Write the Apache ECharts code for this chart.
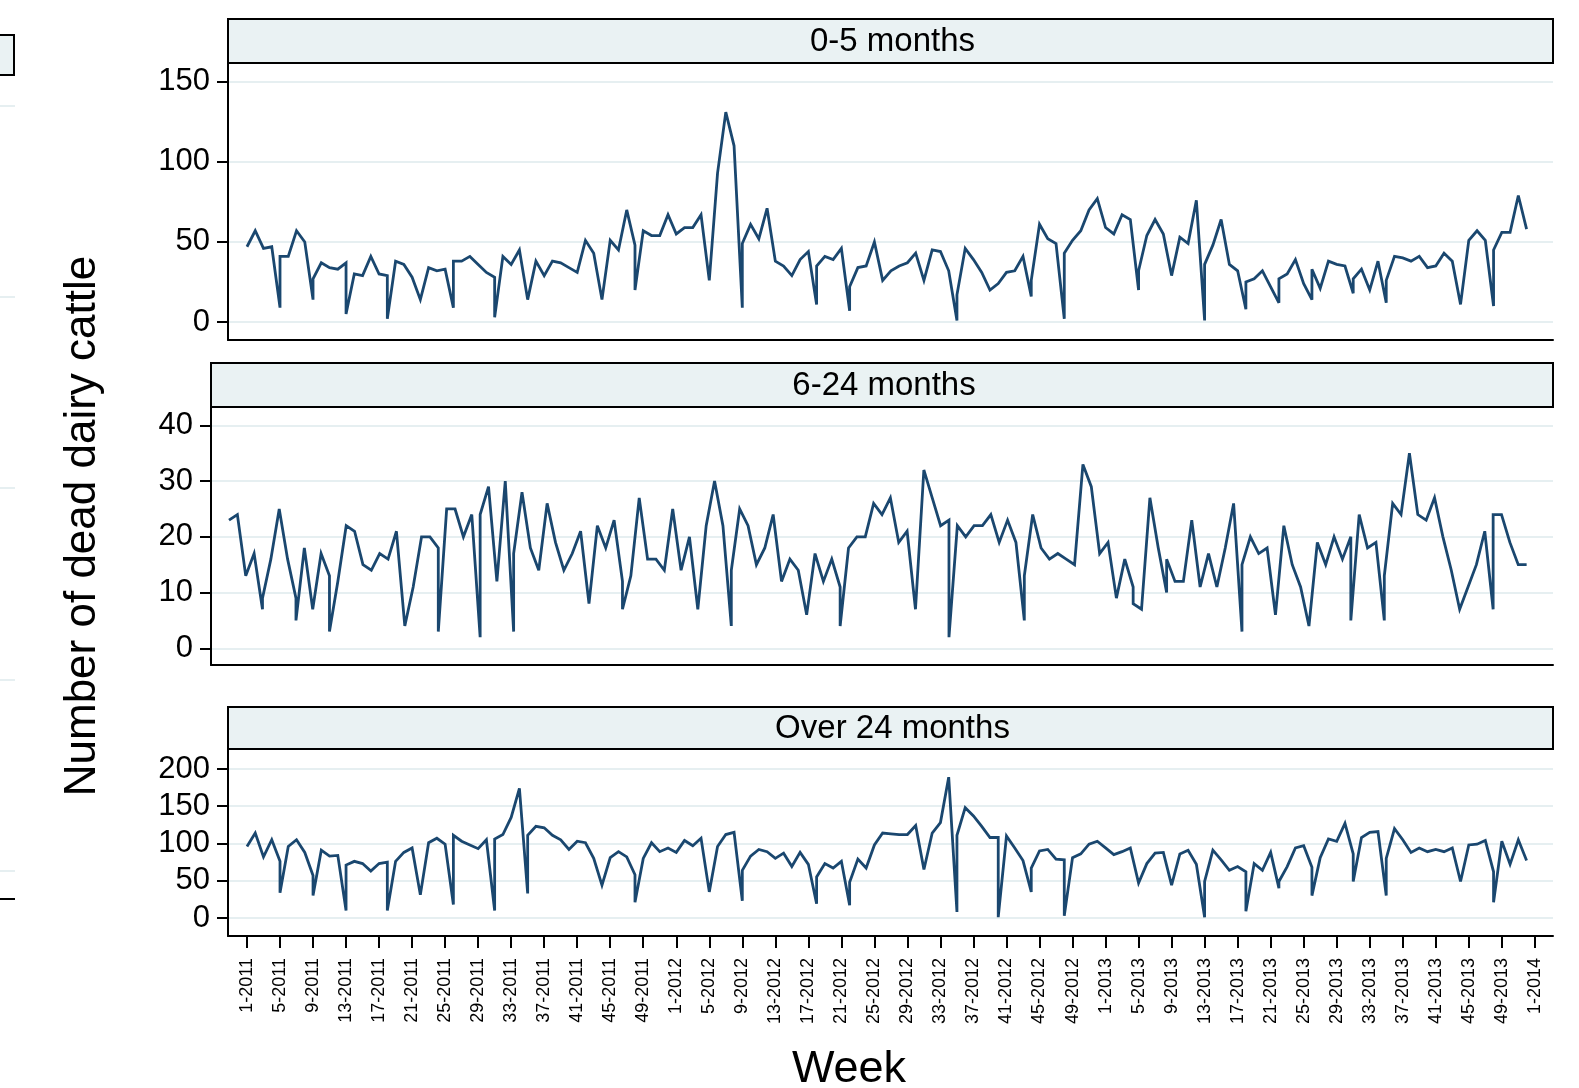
<!DOCTYPE html>
<html>
<head>
<meta charset="utf-8">
<title>Number of dead dairy cattle by week</title>
<script src="https://cdn.jsdelivr.net/npm/echarts@6.0.0/dist/echarts.min.js"></script>
<style>
  html, body { margin: 0; padding: 0; background: #fff; }
  #chart { width: 1579px; height: 1088px; }
</style>
</head>
<body>
<div id="chart"></div>
<script>
// weekly counts, week 0 = 1-2011; a week cut by a month boundary has two records [a, b]
const panelTitles = ['0-5 months', '6-24 months', 'Over 24 months'];

const calves = [
  47, 57, 46, 47, [9, 41], 41, 57, 50, [14, 27], 37, 34, 33, [37, 5], 30, 29, 41, 30, [29, 2], 38, 36,
  28, 14, 34, 32, 33, [9, 38], 38, 41, 36, 31, [28, 3], 41, 36, 45, 14, 38, 29, 38, 37, 34,
  31, 51, 43, 14, 51, 45, 70, [48, 20], 57, 54, 54, 67, 55, 59, 59, 67, 26, 93, 131, 110,
  [9, 49], 61, 52, 71, 38, 35, 29, 39, 44, [11, 35], 41, 39, 46, [7, 22], 34, 35, 50, 26, 32, 35,
  37, 43, 26, 45, 44, 32, [1, 17], 46, 39, 31, 20, 24, 31, 32, 41, [16, 26], 61, 52, 49, [2, 43],
  51, 57, 70, 77, 59, 55, 67, 64, [20, 32], 54, 64, 55, 29, 53, 49, 76, [1, 36], 48, 64, 36,
  32, [8, 25], 27, 32, 22, [12, 27], 30, 39, 24, [14, 33], 21, 38, 36, 35, [18, 27], 33, 20, 38, [12, 26], 41,
  40, 38, 41, 34, 35, 43, 38, 11, 51, 57, 51, [10, 45], 56, 56, 79, 58
];

const youngstock = [
  23, 24, 13, 17, [7, 9], 16, 25, 16, [9, 5], 18, 7, 17, [13, 3], 12, 22, 21, 15, 14, 17, 16,
  21, 4, 11, 20, 20, [18, 3], 25, 25, 20, 24, [2, 24], 29, 12, 30, [3, 17], 28, 18, 14, 26, 19,
  14, 17, 21, 8, 22, 18, 23, [12, 7], 13, 27, 16, 16, 14, 25, 14, 20, 7, 22, 30, 22,
  [4, 14], 25, 22, 15, 18, 24, 12, 16, 14, 6, 17, 12, 16, [11, 4], 18, 20, 20, 26, 24, 27,
  19, 21, 7, 32, 27, 22, [23, 2], 22, 20, 22, 22, 24, 19, 23, 19, [5, 13], 24, 18, 16, 17,
  16, 15, 33, 29, 17, 19, 9, 16, [11, 8], 7, 27, 18, [10, 16], 12, 12, 23, 11, 17, 11, 18,
  26, [3, 15], 20, 17, 18, 6, 22, 15, 11, 4, 19, 15, 20, 16, [20, 5], 24, 18, 19, [5, 13], 26,
  24, 35, 24, 23, 27, 20, 14, 7, 11, 15, 21, [7, 24], 24, 19, 15, 15
];

const adults = [
  96, 114, 82, 105, [76, 34], 96, 105, 88, [57, 30], 91, 83, 84, [10, 71], 76, 73, 63, 73, [75, 10], 76, 88,
  94, 31, 101, 107, 99, [18, 111], 103, 98, 93, 105, [10, 106], 112, 135, 174, [33, 111], 123, 121, 111, 105, 92,
  103, 101, 80, 44, 81, 89, 82, [58, 21], 80, 101, 89, 94, 88, 104, 97, 107, 35, 96, 112, 115,
  [23, 64], 83, 92, 89, 80, 87, 69, 88, 72, [19, 55], 73, 67, 76, [17, 48], 79, 67, 98, 114, 113, 112,
  112, 124, 65, 114, 128, 189, [8, 111], 148, 137, 123, 108, [108, 1], 110, 94, 77, [35, 67], 90, 92, 79, [78, 3],
  81, 86, 99, 103, 94, 85, 89, 94, 47, 73, 87, 88, 44, 86, 91, 72, [1, 49], 91, 78, 64,
  69, [62, 9], 73, 64, 88, [40, 49], 69, 94, 97, [68, 30], 81, 106, 103, 127, [86, 49], 108, 115, 116, [30, 80], 120,
  105, 88, 94, 89, 92, 89, 94, 49, 98, 99, 104, [62, 21], 103, 72, 105, 77
];

const yTicks = [
  [0, 50, 100, 150],
  [0, 10, 20, 30, 40],
  [0, 50, 100, 150, 200]
];

const tickLabels = [
  '1-2011', '5-2011', '9-2011', '13-2011', '17-2011', '21-2011', '25-2011', '29-2011', '33-2011', '37-2011',
  '41-2011', '45-2011', '49-2011',
  '1-2012', '5-2012', '9-2012', '13-2012', '17-2012', '21-2012', '25-2012', '29-2012', '33-2012', '37-2012',
  '41-2012', '45-2012', '49-2012',
  '1-2013', '5-2013', '9-2013', '13-2013', '17-2013', '21-2013', '25-2013', '29-2013', '33-2013', '37-2013',
  '41-2013', '45-2013', '49-2013',
  '1-2014'
];

// 52 weeks per year, as in the source's weekly dates
const tickWeeks = tickLabels.map(s => {
  const [w, y] = s.split('-').map(Number);
  return (y - 2011) * 52 + (w - 1);
});
const labelOf = {};
tickWeeks.forEach((w, k) => { labelOf[w] = tickLabels[k]; });

const toPoints = vals => vals.flatMap((v, i) => (Array.isArray(v) ? v : [v]).map(y => [i, y]));

const FONT = '"Liberation Sans", Arial, Helvetica, sans-serif';
const NAVY = '#1a476f';
const GRIDC = '#e6eff1';
const STRIP = '#eaf2f3';

// plot boxes [left, top, width, height] and value ranges
const boxes = [
  [228, 63, 1325, 277],
  [211, 407, 1342, 258],
  [228, 749, 1325, 187]
];
const yRange = [[-11.2, 161.7], [-3.0, 43.3], [-24.2, 226.8]];
const xRange = [[-2.3, 158.2], [-2.15, 158.15], [-2.3, 158.2]];

const series = [calves, youngstock, adults];

const chart = echarts.init(document.getElementById('chart'));

const grid = boxes.map(b => ({ left: b[0], top: b[1], width: b[2], height: b[3], containLabel: false }));

const xAxis = boxes.map((b, k) => {
  const last = k === 2;
  return {
    type: 'value',
    gridIndex: k,
    min: xRange[k][0],
    max: xRange[k][1],
    axisLine: { show: true, onZero: false, lineStyle: { color: '#000', width: 2 } },
    axisTick: last ? { show: true, customValues: tickWeeks, length: 12, lineStyle: { color: '#000', width: 2 } } : { show: false },
    axisLabel: last ? {
      show: true,
      customValues: tickWeeks,
      rotate: 90,
      margin: 22,
      fontSize: 18,
      color: '#000',
      fontFamily: FONT,
      formatter: v => labelOf[Math.round(v)] || ''
    } : { show: false },
    splitLine: { show: false }
  };
});

const yAxis = boxes.map((b, k) => ({
  type: 'value',
  gridIndex: k,
  min: yRange[k][0],
  max: yRange[k][1],
  axisLine: { show: true, onZero: false, lineStyle: { color: '#000', width: 2 } },
  axisTick: { show: true, customValues: yTicks[k], length: 11, lineStyle: { color: '#000', width: 2 } },
  axisLabel: { customValues: yTicks[k], margin: 18, fontSize: 31, color: '#000', fontFamily: FONT, padding: [3, 0, 0, 0] },
  splitLine: { show: true, lineStyle: { color: GRIDC, width: 2 } }
}));

const lines = series.map((vals, k) => ({
  type: 'line',
  xAxisIndex: k,
  yAxisIndex: k,
  data: toPoints(vals),
  showSymbol: false,
  symbol: 'none',
  lineStyle: { color: NAVY, width: 2.8, join: 'miter', miterLimit: 4 },
  z: 3
}));

const stripHeights = [44, 44, 42];
const graphics = [];
boxes.forEach((b, k) => {
  const h = stripHeights[k];
  graphics.push({
    type: 'rect',
    shape: { x: b[0], y: b[1] - h, width: b[2], height: h },
    style: { fill: STRIP, stroke: '#000', lineWidth: 2 },
    z: 10
  });
  graphics.push({
    type: 'text',
    x: b[0] + b[2] / 2 + 2,
    y: b[1] - h / 2 + 1,
    style: { text: panelTitles[k], fontSize: 33, fontFamily: FONT, fill: '#000', align: 'center', verticalAlign: 'middle' },
    z: 11
  });
});

// axis titles
graphics.push({
  type: 'text',
  x: 83, y: 526,
  rotation: Math.PI / 2,
  style: { text: 'Number of dead dairy cattle', fontSize: 44, fontFamily: FONT, fill: '#000', align: 'center', verticalAlign: 'middle' }
});
graphics.push({
  type: 'text',
  x: 849, y: 1070,
  style: { text: 'Week', fontSize: 45, fontFamily: FONT, fill: '#000', align: 'center', verticalAlign: 'middle' }
});

// clipped neighbouring panel on the left edge
graphics.push({
  type: 'rect',
  shape: { x: -2, y: 35, width: 16, height: 40 },
  style: { fill: STRIP, stroke: '#000', lineWidth: 2 }
});
[106, 297, 488, 680, 871].forEach(y => {
  graphics.push({ type: 'line', shape: { x1: 0, y1: y, x2: 15, y2: y }, style: { stroke: GRIDC, lineWidth: 2 } });
});
graphics.push({ type: 'line', shape: { x1: 0, y1: 899, x2: 15, y2: 899 }, style: { stroke: '#000', lineWidth: 2 } });

chart.setOption({
  animation: false,
  backgroundColor: '#fff',
  textStyle: { fontFamily: FONT },
  grid,
  xAxis,
  yAxis,
  series: lines,
  graphic: graphics
});
</script>
</body>
</html>
